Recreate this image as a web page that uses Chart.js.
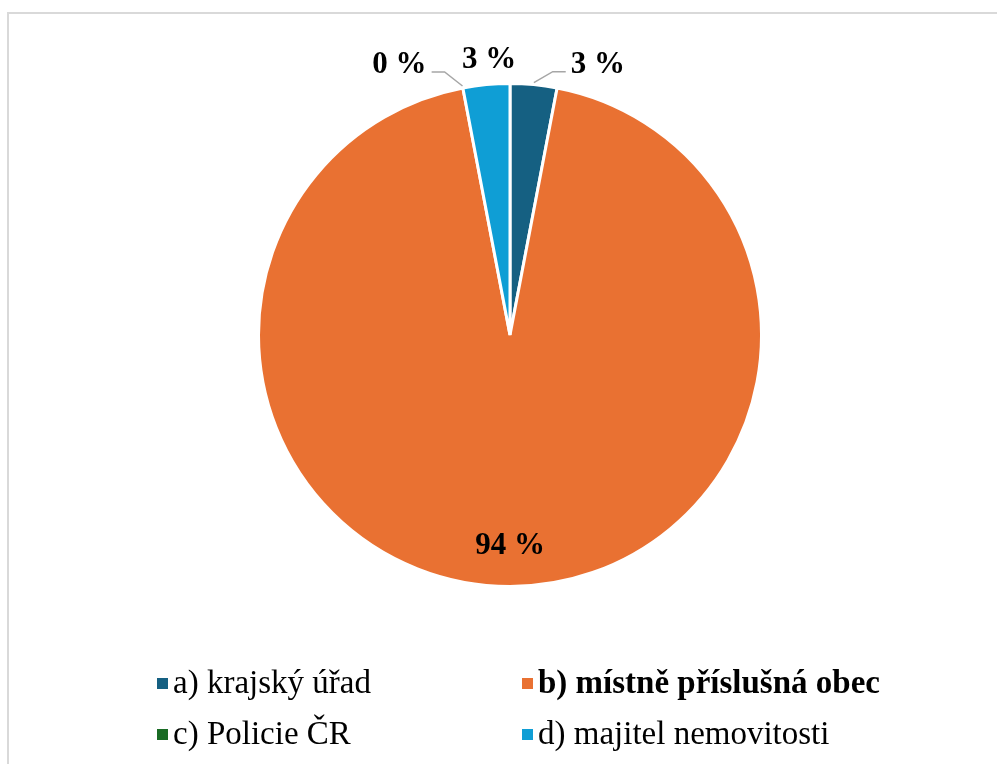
<!DOCTYPE html>
<html lang="cs">
<head>
<meta charset="utf-8">
<title>Graf</title>
<script src="https://cdn.jsdelivr.net/npm/chart.js@4/dist/chart.umd.min.js"></script>
<style>
    html, body {
        margin: 0;
        padding: 0;
        background: #ffffff;
        overflow: hidden;
    }
    #wrap {
        position: relative;
        width: 997px;
        height: 764px;
        overflow: hidden;
    }
    #frame {
        position: absolute;
        left: 7px;
        top: 12px;
        width: 1100px;
        height: 900px;
        border-top: 2px solid #d9d9d9;
        border-left: 2px solid #d9d9d9;
        pointer-events: none;
    }
    #legend {
        position: absolute;
        left: 0;
        top: 0;
        width: 997px;
        height: 764px;
        font-family: "Liberation Serif", "Times New Roman", serif;
        font-size: 33px;
        color: #000000;
    }
    .item {
        position: absolute;
        line-height: 32px;
        white-space: nowrap;
    }
    .box {
        position: absolute;
        width: 11px;
        height: 11px;
    }
</style>
</head>
<body>
<div id="wrap">
    <canvas id="pieChart" width="997" height="764"></canvas>
    <div id="frame"></div>
    <div id="legend"></div>
</div>
<script>
// Data
const categories = ['a) krajský úřad', 'b) místně příslušná obec', 'c) Policie ČR', 'd) majitel nemovitosti'];
const shares = [3, 94, 0, 3];
const shareLabels = ['3 %', '94 %', '0 %', '3 %'];
const sliceColors = ['#156082', '#E97132', '#196B24', '#0F9ED5'];
const boldItems = [false, true, false, false];

// Label placement (offsets from the slice edge at its middle angle)
const labelPlacement = [
    { inside: false, dx: 64, dy: -18, leader: true },
    { inside: true, frac: 0.84 },
    { inside: false, dx: -63, dy: -21, leader: true },
    { inside: false, dx: 3, dy: -23, leader: false }
];

// Legend layout: two columns, two rows
const legendCols = [157, 522];
const legendRows = [678, 729];

/**
 * Draws value labels with leader lines
 */
const valueLabels = {
    id: 'valueLabels',
    afterDatasetsDraw(chart) {
        const ctx = chart.ctx;
        const meta = chart.getDatasetMeta(0);
        ctx.save();
        ctx.font = 'bold 31px "Liberation Serif", "Times New Roman", serif';
        ctx.fillStyle = '#000000';
        ctx.textBaseline = 'middle';
        ctx.textAlign = 'center';

        meta.data.forEach((arc, i) => {
            const p = arc.getProps(['x', 'y', 'startAngle', 'endAngle', 'outerRadius'], true);
            const mid = (p.startAngle + p.endAngle) / 2;
            const place = labelPlacement[i];
            const text = shareLabels[i];

            if (place.inside) {
                const r = p.outerRadius * place.frac;
                ctx.fillText(text, p.x + Math.cos(mid) * r, p.y + Math.sin(mid) * r);
                return;
            }

            const ex = p.x + Math.cos(mid) * (p.outerRadius + 2);
            const ey = p.y + Math.sin(mid) * (p.outerRadius + 2);
            const lx = ex + place.dx;
            const ly = ey + place.dy;
            ctx.fillText(text, lx, ly);

            if (place.leader) {
                const half = ctx.measureText(text).width / 2;
                const side = place.dx > 0 ? -1 : 1;
                const endX = lx + side * (half + 5);
                const elbowX = endX + side * 13;
                const lineY = ly + 7;
                ctx.strokeStyle = '#a6a6a6';
                ctx.lineWidth = 1.5;
                ctx.beginPath();
                ctx.moveTo(ex, ey);
                ctx.lineTo(elbowX, lineY);
                ctx.lineTo(endX, lineY);
                ctx.stroke();
            }
        });
        ctx.restore();
    }
};

const pieChart = new Chart(document.getElementById('pieChart'), {
    type: 'pie',
    data: {
        labels: categories,
        datasets: [{
            data: shares,
            backgroundColor: sliceColors,
            borderColor: '#ffffff',
            borderWidth: 3
        }]
    },
    options: {
        responsive: false,
        animation: false,
        layout: {
            padding: { left: 257, right: 234, top: 82, bottom: 176 }
        },
        plugins: {
            legend: { display: false },
            tooltip: { enabled: false }
        }
    },
    plugins: [valueLabels]
});

/**
 * Builds the two-column legend below the pie
 */
function buildLegend() {
    const legend = document.getElementById('legend');
    categories.forEach((name, i) => {
        const col = legendCols[i % 2];
        const row = legendRows[Math.floor(i / 2)];

        const box = document.createElement('div');
        box.className = 'box';
        box.style.left = col + 'px';
        box.style.top = row + 'px';
        box.style.background = sliceColors[i];
        legend.appendChild(box);

        const label = document.createElement('div');
        label.className = 'item';
        label.style.left = (col + 16) + 'px';
        label.style.top = (row - 12) + 'px';
        label.style.fontWeight = boldItems[i] ? 'bold' : 'normal';
        label.textContent = name;
        legend.appendChild(label);
    });
}

buildLegend();
</script>
</body>
</html>
